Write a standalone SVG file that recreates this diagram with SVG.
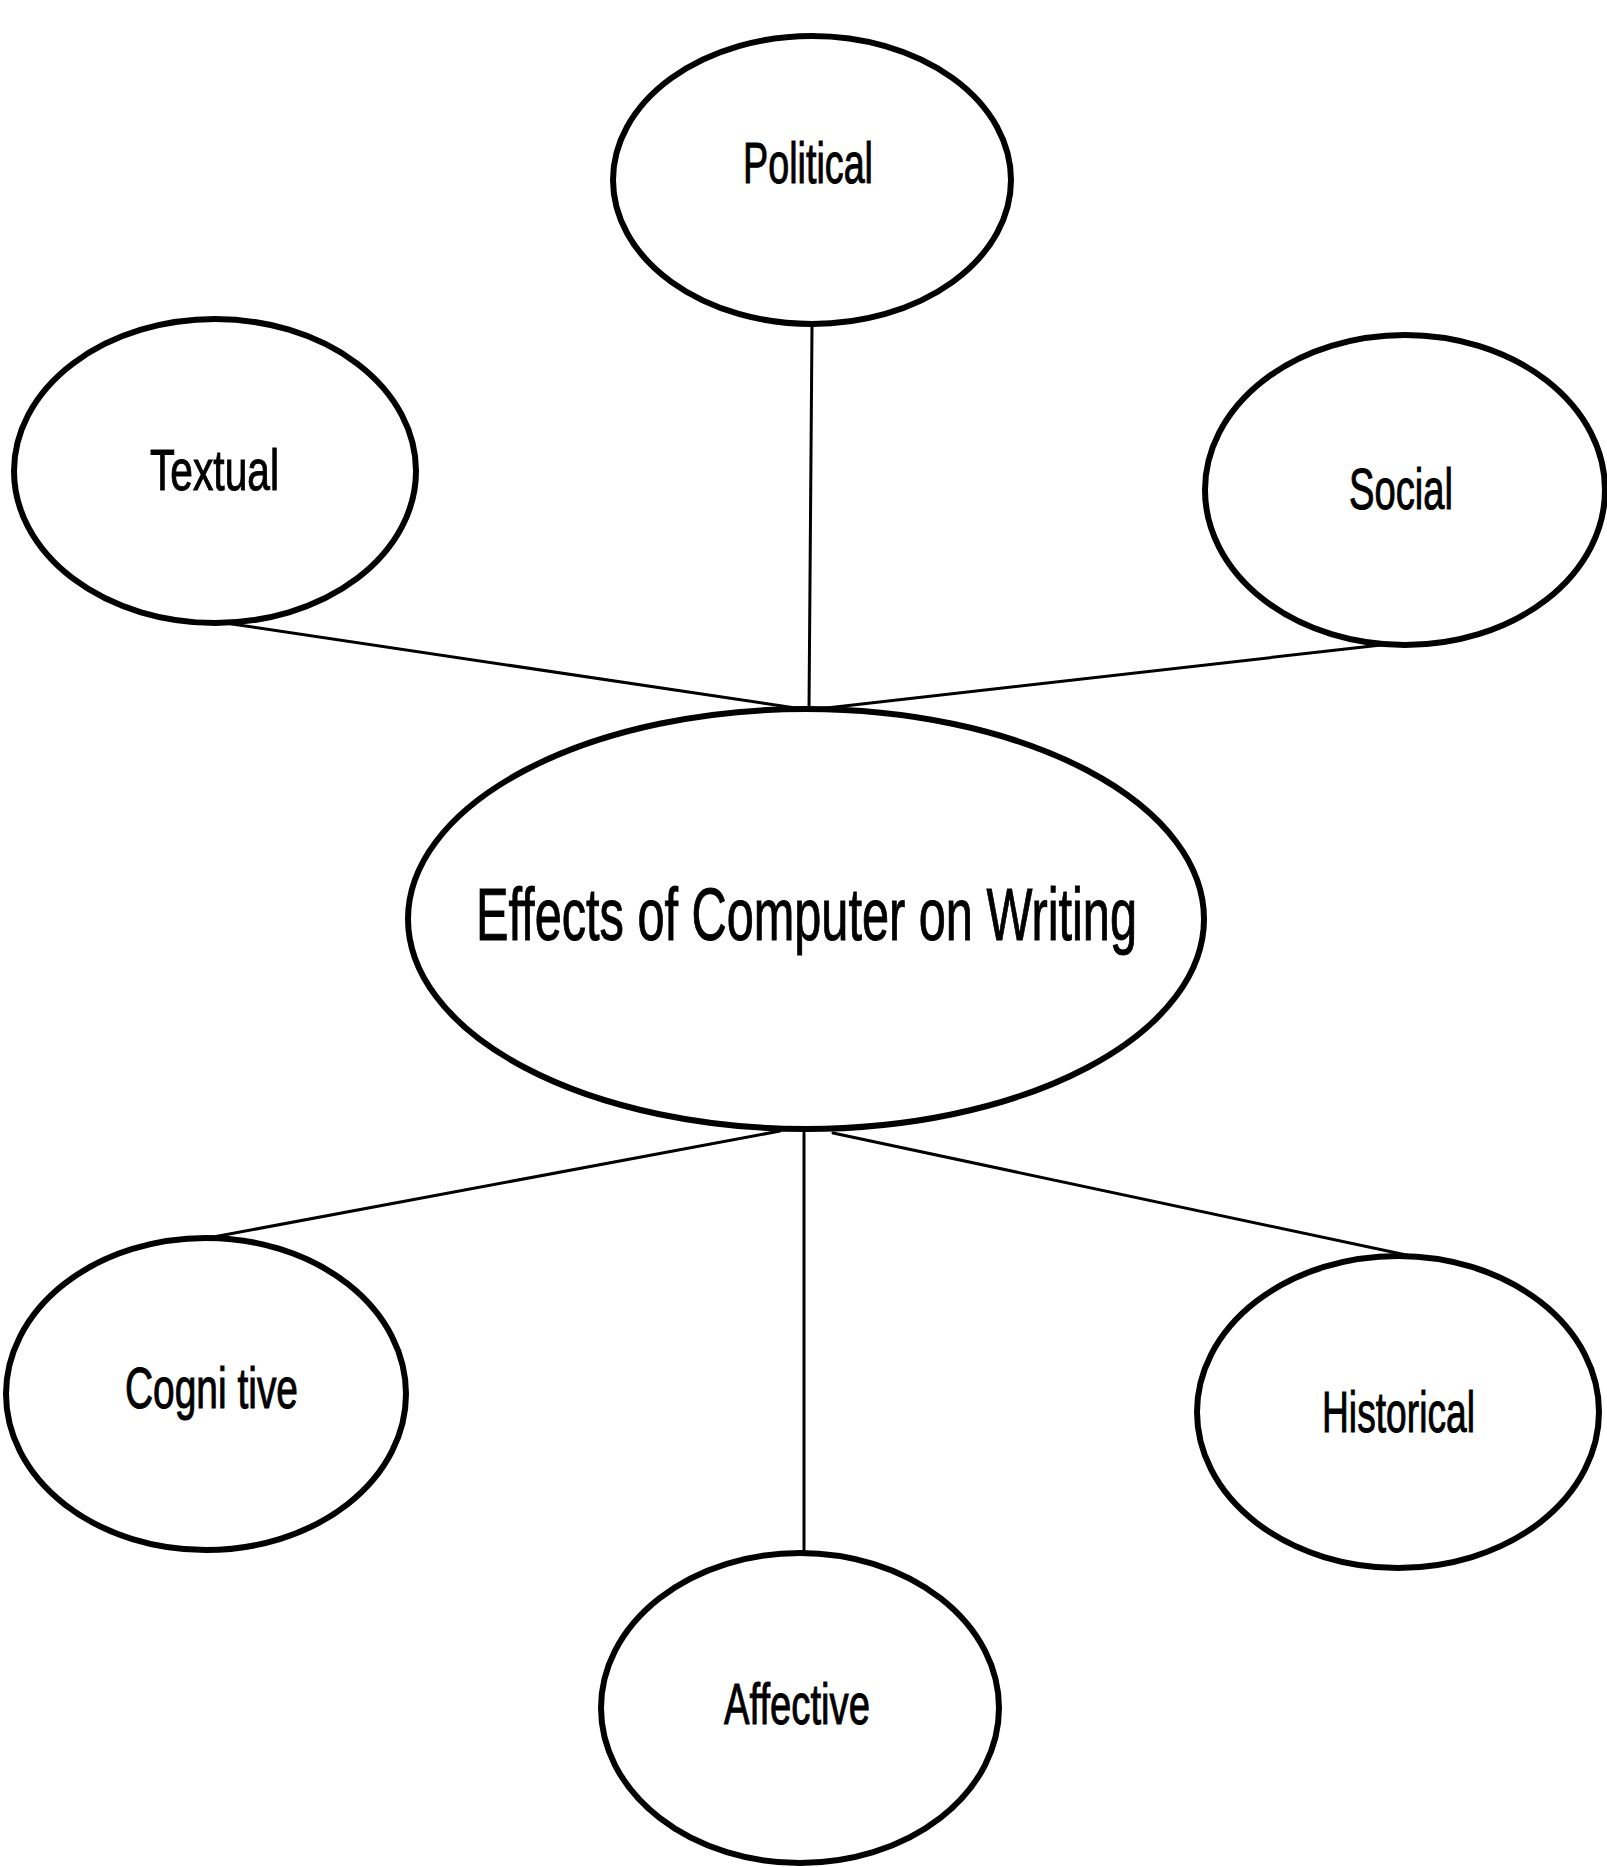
<svg xmlns="http://www.w3.org/2000/svg" width="1607" height="1867" viewBox="0 0 1607 1867">
<style>
.node ellipse{fill:#fff;stroke:#000;stroke-width:6}
.node text{font-family:"Liberation Sans",Arial,sans-serif;font-size:57px;fill:#000;stroke:#000;stroke-width:1;text-anchor:start}
#connectors line{stroke:#000;stroke-width:3;stroke-linecap:round}
</style>
<rect width="1607" height="1867" fill="#fff"/>
<g id="connectors">
<line x1="812" y1="326" x2="809" y2="710"/>
<line x1="232" y1="624" x2="809" y2="710"/>
<line x1="1381" y1="645" x2="809" y2="710"/>
<line x1="780" y1="1131" x2="208" y2="1238"/>
<line x1="804" y1="1133" x2="804" y2="1553"/>
<line x1="833" y1="1133" x2="1411" y2="1256"/>
</g>
<g id="node-political" class="node">
<ellipse cx="812" cy="180" rx="199" ry="144"/>
<text x="743" y="183" textLength="130" lengthAdjust="spacingAndGlyphs">Political</text>
</g>
<g id="node-textual" class="node">
<ellipse cx="215" cy="471" rx="201" ry="152"/>
<text x="150" y="490" textLength="129" lengthAdjust="spacingAndGlyphs">Textual</text>
</g>
<g id="node-social" class="node">
<ellipse cx="1405" cy="490" rx="200" ry="155"/>
<text x="1349" y="509" textLength="104" lengthAdjust="spacingAndGlyphs">Social</text>
</g>
<g id="node-center" class="node">
<ellipse cx="806" cy="919" rx="398" ry="210"/>
<text x="476" y="940" style="font-size:74px" textLength="661" lengthAdjust="spacingAndGlyphs">Effects of Computer on Writing</text>
</g>
<g id="node-cognitive" class="node">
<ellipse cx="206" cy="1394" rx="200" ry="156"/>
<text x="125" y="1408" textLength="173" lengthAdjust="spacingAndGlyphs">Cogni tive</text>
</g>
<g id="node-historical" class="node">
<ellipse cx="1398" cy="1412" rx="201" ry="156"/>
<text x="1322" y="1432" textLength="153" lengthAdjust="spacingAndGlyphs">Historical</text>
</g>
<g id="node-affective" class="node">
<ellipse cx="800" cy="1708" rx="199" ry="155"/>
<text x="724" y="1724" textLength="146" lengthAdjust="spacingAndGlyphs">Affective</text>
</g>
</svg>
